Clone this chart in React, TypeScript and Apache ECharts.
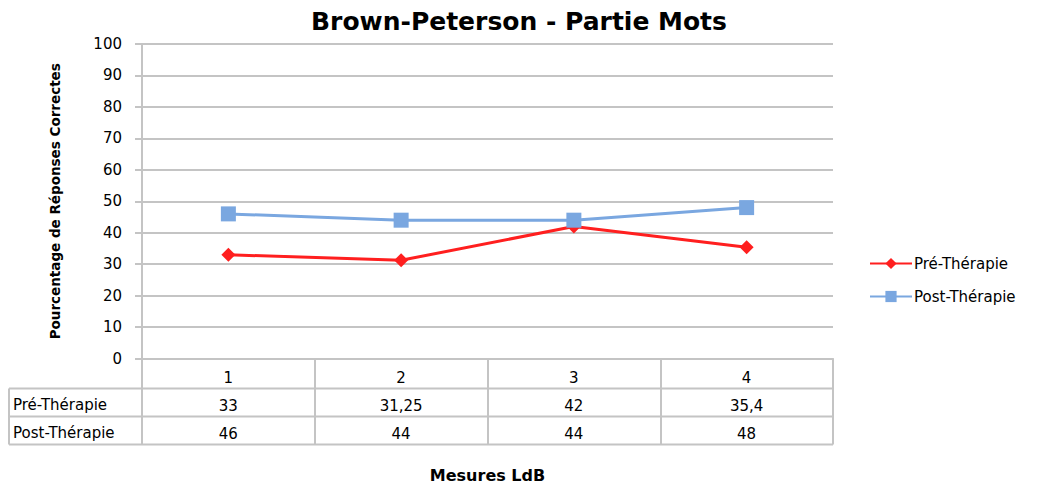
import React, { useEffect, useRef } from "react";
import * as echarts from "echarts";

const categories = ["1", "2", "3", "4"];
const preTherapie = [33, 31.25, 42, 35.4];
const postTherapie = [46, 44, 44, 48];
const seriesNames = ["Pré-Thérapie", "Post-Thérapie"];
const yTicks = { min: 0, max: 100, interval: 10 };

const W = 1038;
const H = 488;
const GRID_LEFT = 142;
const GRID_RIGHT = 833;
const GRID_TOP = 44;
const GRID_BOTTOM = 358.6;
const ROW_H = 28;
const TABLE_LEFT = 9;
const FONT = "'DejaVu Sans', sans-serif";
const LINE_COLOR = "#c4c4c4";

const fmt = (v: number) => String(v).replace(".", ",");

export default function App() {
  const ref = useRef<HTMLDivElement>(null);
  useEffect(() => {
    if (!ref.current) return;
    const chart = echarts.init(ref.current, undefined, { renderer: "svg" });
    const r1 = GRID_BOTTOM + 30;
    const r2 = r1 + ROW_H;
    const r3 = r2 + ROW_H;
    chart.setOption({
      animation: false,
      backgroundColor: "#fff",
      title: {
        text: "Brown-Peterson - Partie Mots",
        left: "center",
        top: 4,
        textStyle: { fontFamily: FONT, fontWeight: "bold", fontSize: 25, color: "#000" },
      },
      legend: {
        orient: "vertical",
        left: 864,
        top: 251,
        itemWidth: 42,
        itemHeight: 14,
        itemGap: 18,
        data: seriesNames,
        textStyle: { fontFamily: FONT, fontSize: 15, color: "#000", padding: [0, 0, 0, -3] },
      },
      grid: {
        left: GRID_LEFT,
        right: W - GRID_RIGHT,
        top: GRID_TOP,
        bottom: H - GRID_BOTTOM,
        containLabel: false,
        outerBoundsMode: "none",
      },
      xAxis: {
        type: "category",
        data: categories,
        boundaryGap: true,
        name: "Mesures LdB",
        nameLocation: "middle",
        nameGap: 109,
        nameTextStyle: { fontFamily: FONT, fontWeight: "bold", fontSize: 16, color: "#000" },
        axisLine: { show: true, lineStyle: { color: LINE_COLOR, width: 2 } },
        axisTick: { show: true, length: r3 - GRID_BOTTOM, lineStyle: { color: LINE_COLOR, width: 2 } },
        axisLabel: {
          margin: 5,
          fontFamily: FONT,
          fontSize: 15,
          color: "#000",
          formatter: (value: string, idx: number) =>
            `{c|${value}}\n{c|${fmt(preTherapie[idx])}}\n{c|${fmt(postTherapie[idx])}}`,
          rich: { c: { fontFamily: FONT, fontSize: 15, color: "#000", lineHeight: ROW_H } },
        },
      },
      yAxis: {
        type: "value",
        min: yTicks.min,
        max: yTicks.max,
        interval: yTicks.interval,
        name: "Pourcentage de Réponses Correctes",
        nameLocation: "middle",
        nameGap: 80,
        nameTextStyle: { fontFamily: FONT, fontWeight: "bold", fontSize: 13.5, color: "#000" },
        axisLine: { show: true, lineStyle: { color: LINE_COLOR, width: 2 } },
        axisTick: { show: true, length: 7, lineStyle: { color: LINE_COLOR, width: 2 } },
        axisLabel: { margin: 20, fontFamily: FONT, fontSize: 15, color: "#000" },
        splitLine: { show: true, lineStyle: { color: LINE_COLOR, width: 2 } },
      },
      series: [
        {
          name: seriesNames[0],
          type: "line",
          data: preTherapie,
          symbol: "diamond",
          symbolSize: 14,
          itemStyle: { color: "#ff1f1f" },
          lineStyle: { color: "#ff1f1f", width: 3 },
        },
        {
          name: seriesNames[1],
          type: "line",
          data: postTherapie,
          symbol: "rect",
          symbolSize: 15,
          itemStyle: { color: "#7aa7e0" },
          lineStyle: { color: "#7aa7e0", width: 3 },
        },
      ],
      graphic: [
        { type: "line", shape: { x1: TABLE_LEFT, y1: r1, x2: GRID_RIGHT, y2: r1 }, style: { stroke: LINE_COLOR, lineWidth: 2 } },
        { type: "line", shape: { x1: TABLE_LEFT, y1: r2, x2: GRID_RIGHT, y2: r2 }, style: { stroke: LINE_COLOR, lineWidth: 2 } },
        { type: "line", shape: { x1: TABLE_LEFT, y1: r3, x2: GRID_RIGHT, y2: r3 }, style: { stroke: LINE_COLOR, lineWidth: 2 } },
        { type: "line", shape: { x1: TABLE_LEFT, y1: r1, x2: TABLE_LEFT, y2: r3 }, style: { stroke: LINE_COLOR, lineWidth: 2 } },
        {
          type: "text",
          x: 13,
          y: (r1 + r2) / 2 + 2,
          style: { text: seriesNames[0], fontFamily: FONT, fontSize: 15, fill: "#000", verticalAlign: "middle", textAlign: "left" },
        },
        {
          type: "text",
          x: 13,
          y: (r2 + r3) / 2 + 2,
          style: { text: seriesNames[1], fontFamily: FONT, fontSize: 15, fill: "#000", verticalAlign: "middle", textAlign: "left" },
        },
      ],
    });
    return () => chart.dispose();
  }, []);
  return <div ref={ref} style={{ width: W, height: H, marginLeft: -8, marginTop: -8 }} />;
}
